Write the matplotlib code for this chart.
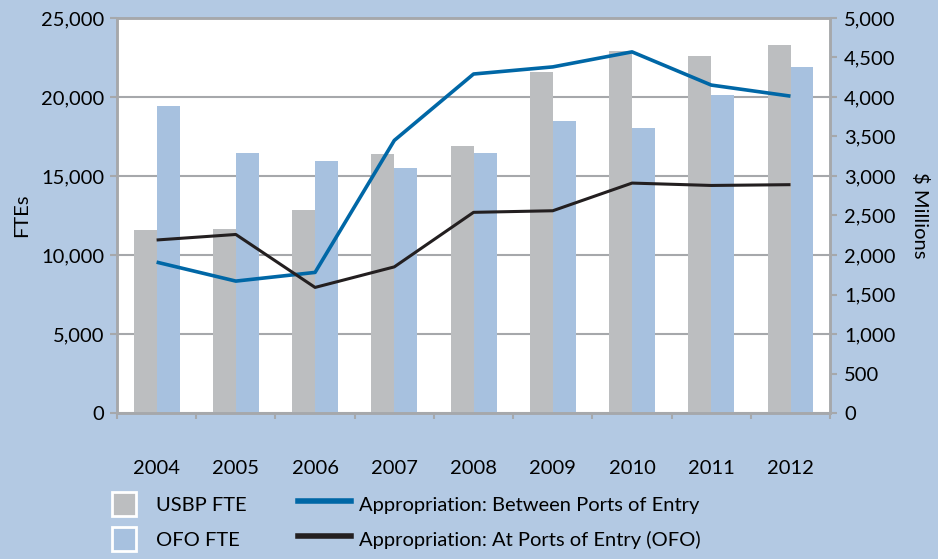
import numpy as np
import matplotlib.pyplot as plt
from matplotlib.patches import Patch
from matplotlib.lines import Line2D

# values
years = ["2004", "2005", "2006", "2007", "2008", "2009", "2010", "2011", "2012"]
usbp_fte = [11600, 11650, 12850, 16400, 16900, 21600, 22900, 22600, 23300]
ofo_fte = [19450, 16450, 15950, 15500, 16450, 18500, 18050, 20100, 21900]
approp_between = [1910, 1670, 1780, 3450, 4290, 4380, 4570, 4150, 4010]
approp_at = [2190, 2260, 1590, 1850, 2540, 2560, 2910, 2880, 2890]

bg = "#B3C9E3"
gray = "#BCBEC0"
lblue = "#A7C1DF"
dblue = "#0067A6"
black = "#231F20"
spine = "#A6A8AB"

plt.rcParams['font.family'] = ['Lato', 'DejaVu Sans']
fs = 14.5

fig = plt.figure(figsize=(9.38, 5.59), dpi=100, facecolor=bg)
ax = fig.add_axes([0.1247, 0.261, 0.7603, 0.707])
ax2 = ax.twinx()

x = np.arange(len(years))
w = 0.29
ax.bar(x - w / 2, usbp_fte, width=w, color=gray, zorder=2)
ax.bar(x + w / 2, ofo_fte, width=w, color=lblue, zorder=2)

ax2.plot(x, approp_between, color=dblue, lw=2.6, solid_capstyle='butt')
ax2.plot(x, approp_at, color=black, lw=2.2, solid_capstyle='butt')

ax.set_xlim(-0.5, len(years) - 0.5)
ax.set_ylim(0, 25000)
ax2.set_ylim(0, 5000)

ax.set_yticks(range(0, 25001, 5000))
ax.set_yticklabels([f"{v:,}" for v in range(0, 25001, 5000)])
ax2.set_yticks(range(0, 5001, 500))
ax2.set_yticklabels([f"{v:,}" for v in range(0, 5001, 500)])

ax.set_xticks(x)
ax.set_xticklabels(years)
ax.set_xticks(np.arange(-0.5, len(years)), minor=True)
ax.tick_params(axis='x', which='major', length=0, pad=34, labelsize=fs)
ax.tick_params(axis='x', which='minor', length=4, color=spine, width=1.5)
ax.tick_params(axis='y', length=5, color=spine, width=1.5, pad=4, labelsize=fs)
ax2.tick_params(axis='y', length=5, color=spine, width=1.5, pad=5, labelsize=fs)

ax.grid(axis='y', color=spine, lw=1.5, zorder=0)
ax.set_axisbelow(True)
ax.set_facecolor('white')

for a in (ax, ax2):
    for s in a.spines.values():
        s.set_color(spine)
        s.set_linewidth(1.8)

ax.set_ylabel("FTEs", fontsize=fs, labelpad=8)
ax2.set_ylabel("$ Millions", fontsize=fs, rotation=-90, labelpad=24)

bar_handles = [Patch(facecolor=gray, edgecolor='white', lw=2, label="USBP FTE"),
               Patch(facecolor=lblue, edgecolor='white', lw=2, label="OFO FTE")]
line_handles = [Line2D([], [], color=dblue, lw=4, label="Appropriation: Between Ports of Entry"),
                Line2D([], [], color=black, lw=4, label="Appropriation: At Ports of Entry (OFO)")]

fig.legend(handles=bar_handles, loc='upper left', bbox_to_anchor=(0.119, 0.12),
           frameon=False, fontsize=fs, handlelength=1.2, handleheight=1.45,
           labelspacing=0.55, handletextpad=1.0, borderpad=0, borderaxespad=0)
fig.legend(handles=line_handles, loc='upper left', bbox_to_anchor=(0.318, 0.12),
           frameon=False, fontsize=fs, handlelength=2.6, handleheight=1.45,
           labelspacing=0.55, handletextpad=0.4, borderpad=0, borderaxespad=0)

fig.savefig("out.png", dpi=100, facecolor=bg)
